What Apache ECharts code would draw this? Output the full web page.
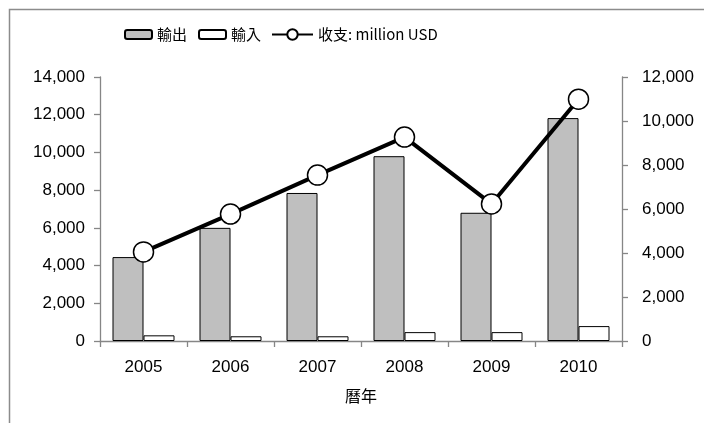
<!DOCTYPE html>
<html>
<head>
<meta charset="utf-8">
<script src="https://cdn.jsdelivr.net/npm/echarts@6/dist/echarts.min.js"></script>
<style>html,body{margin:0;padding:0;background:#fff}#c{width:704px;height:423px}</style>
</head>
<body>
<div id="c"></div>
<script>
var categories = ['2005', '2006', '2007', '2008', '2009', '2010'];
var exportValues = [4450, 6000, 7850, 9800, 6800, 11820];
var importValues = [300, 250, 250, 470, 470, 790];
var balanceValues = [4050, 5770, 7540, 9270, 6230, 10990];
var leftTicks = [0, 14000, 2000];
var rightTicks = [0, 12000, 2000];

var FONT = '"Liberation Sans", "Noto Sans CJK TC", sans-serif';
var CJK = '"Noto Sans CJK TC", sans-serif';
var fmt = function (v) { return v.toLocaleString('en-US'); };
var axisGray = '#868686';

var chart = echarts.init(document.getElementById('c'), null, {renderer: 'canvas'});
chart.setOption({
  animation: false,
  backgroundColor: '#fff',
  graphic: [{
    type: 'rect', shape: {x: 9.5, y: 9.5, width: 800, height: 600},
    style: {fill: 'none', stroke: '#8c8c8c', lineWidth: 1.5}, silent: true
  }],
  grid: {left: 100, right: 82, top: 77, bottom: 82},
  legend: [{
    left: 124, top: 27, padding: 0, itemWidth: 27, itemHeight: 9, itemGap: 11,
    textStyle: {fontFamily: CJK, fontSize: 15, color: '#000'},
    data: ['輸出', '輸入']
  }, {
    left: 271, top: 27, padding: 0, itemWidth: 41, itemHeight: 13,
    textStyle: {fontFamily: CJK, fontSize: 15, color: '#000'},
    data: ['收支'],
    formatter: function () { return '收支: million USD'; }
  }],
  xAxis: {
    type: 'category', data: categories,
    name: '曆年', nameLocation: 'middle', nameGap: 47,
    nameTextStyle: {fontFamily: CJK, fontSize: 16, color: '#000'},
    axisLine: {lineStyle: {color: axisGray, width: 1.3}},
    axisTick: {show: true, length: 6, lineStyle: {color: axisGray, width: 1.3}},
    axisLabel: {fontFamily: FONT, fontSize: 17, color: '#000', margin: 18}
  },
  yAxis: [{
    type: 'value', min: leftTicks[0], max: leftTicks[1], interval: leftTicks[2],
    axisLine: {show: true, lineStyle: {color: axisGray, width: 1.3}},
    axisTick: {show: true, length: 6, lineStyle: {color: axisGray, width: 1.3}},
    splitLine: {show: false},
    axisLabel: {fontFamily: FONT, fontSize: 17, color: '#000', margin: 15, formatter: fmt}
  }, {
    type: 'value', min: rightTicks[0], max: rightTicks[1], interval: rightTicks[2],
    position: 'right',
    axisLine: {show: true, lineStyle: {color: axisGray, width: 1.3}},
    axisTick: {show: true, length: 6, lineStyle: {color: axisGray, width: 1.3}},
    splitLine: {show: false},
    axisLabel: {fontFamily: FONT, fontSize: 17, color: '#000', margin: 20, formatter: fmt}
  }],
  series: [{
    name: '輸出', type: 'bar', data: exportValues, yAxisIndex: 0,
    barWidth: 31, barGap: '0%',
    itemStyle: {color: '#BFBFBF', borderColor: '#000', borderWidth: 1}
  }, {
    name: '輸入', type: 'bar', data: importValues, yAxisIndex: 0,
    barWidth: 31, barGap: '0%',
    itemStyle: {color: '#fff', borderColor: '#000', borderWidth: 1}
  }, {
    name: '收支', type: 'line', data: balanceValues, yAxisIndex: 1,
    symbol: 'circle', symbolSize: 20,
    lineStyle: {color: '#000', width: 4},
    itemStyle: {color: '#fff', borderColor: '#000', borderWidth: 1.5},
    z: 5
  }]
});
</script>
</body>
</html>
